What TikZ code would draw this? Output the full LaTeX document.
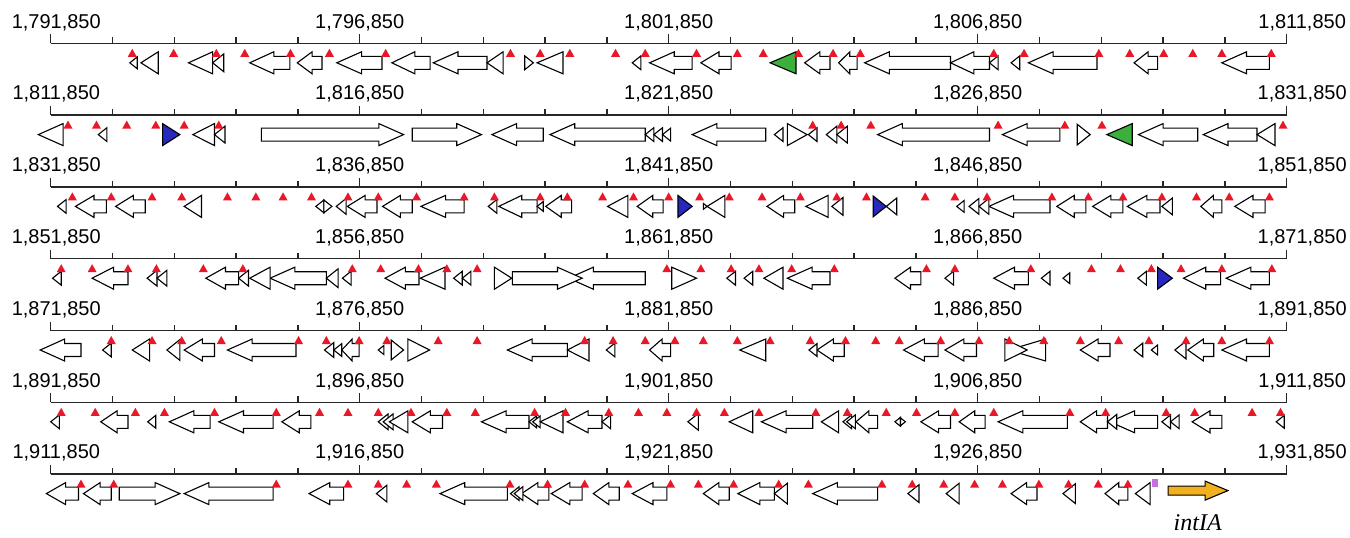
\documentclass[tikz,border=0pt]{standalone}
\usepackage{fontspec}
\setmainfont{Liberation Sans}
\newfontfamily\genefont{Liberation Serif}
\definecolor{sitered}{RGB}{232,24,40}
\definecolor{orfblue}{RGB}{40,40,190}
\definecolor{orfgreen}{RGB}{60,176,60}
\definecolor{intgold}{RGB}{240,176,32}
\definecolor{attviolet}{RGB}{196,112,224}

\tikzset{
  gene/.style={draw=black, line width=1.1pt, line join=miter},
  rule/.style={draw=black!85, line width=1.3pt},
  scale label/.style={anchor=base, inner sep=0pt, font=\fontsize{20}{21}\selectfont},
}

% left / right pointing ORF arrows, ends in kb from the start of the row
\newcommand{\gleft}[3][white]{%
  \pgfmathsetmacro\headl{min(0.40,0.6*(#3-(#2)))}%
  \filldraw[gene,fill=#1] (#2,19.5) -- ({#2+\headl},8.5) -- ({#2+\headl},13) -- (#3,13)
    -- (#3,26) -- ({#2+\headl},26) -- ({#2+\headl},30.5) -- cycle;}
\newcommand{\gright}[3][white]{%
  \pgfmathsetmacro\headl{min(0.40,0.6*(#3-(#2)))}%
  \filldraw[gene,fill=#1] (#3,19.5) -- ({#3-\headl},8.5) -- ({#3-\headl},13) -- (#2,13)
    -- (#2,26) -- ({#3-\headl},26) -- ({#3-\headl},30.5) -- cycle;}
% short ORFs drawn as bare triangles
\newcommand{\tleft}[3][white]{%
  \pgfmathsetmacro\trih{min(11,49.4*(#3-(#2)))}%
  \filldraw[gene,fill=#1] (#2,19.5) -- (#3,{19.5-\trih}) -- (#3,{19.5+\trih}) -- cycle;}
\newcommand{\tright}[3][white]{%
  \pgfmathsetmacro\trih{min(11,49.4*(#3-(#2)))}%
  \filldraw[gene,fill=#1] (#3,19.5) -- (#2,{19.5-\trih}) -- (#2,{19.5+\trih}) -- cycle;}
% restriction site marker
\newcommand{\cutsite}[1]{%
  \fill[sitered] (#1,13.5) -- ++(4.5pt,0pt) -- ++(-4.5pt,8pt) -- ++(-4.5pt,-8pt) -- cycle;}
% 20 kb ruler with 1 kb ticks and coordinate labels every 5 kb
\newcommand{\drawruler}[6]{%
  \draw[rule] (0,0) -- (20,0);
  \foreach \k in {0,...,20} {\draw[rule] (\k,0) -- (\k,-6);}
  \foreach \k in {0,5,...,20} {\draw[rule] (\k,0) -- (\k,-9);}
  \node[scale label] (#1a) at (0.09,-15.3) {#2};
  \node[scale label] (#1b) at (5,-15.3) {#3};
  \node[scale label] (#1c) at (10,-15.3) {#4};
  \node[scale label] (#1d) at (15,-15.3) {#5};
  \node[scale label] (#1e) at (20.25,-15.3) {#6};}

\begin{document}
\begin{tikzpicture}[x=1pt, y=-1pt]
\fill[white] (0,0) rectangle (1350,538);
\useasboundingbox (0,0) rectangle (1350,538);

% ---- 1,791,850 - 1,811,850
\begin{scope}[shift={(50.7,43.3)}, x=61.8pt]
  \drawruler{r1}{1,791,850}{1,796,850}{1,801,850}{1,806,850}{1,811,850}
  \foreach \a/\b in {3.22/3.87, 3.99/4.39, 4.63/5.36, 5.52/6.14, 6.19/7.06, 9.69/10.38,
    10.52/11.01, 12.20/12.61, 12.75/13.05, 13.17/14.56, 14.56/15.19, 15.82/16.93,
    17.53/17.91, 18.95/19.72} {\gleft{\a}{\b}}
  \foreach \a/\b in {1.28/1.40, 1.46/1.74, 2.23/2.62, 2.62/2.80, 7.06/7.32, 7.87/8.29,
    9.41/9.55, 15.19/15.33, 15.54/15.68} {\tleft{\a}{\b}}
  \tright{7.67}{7.81}
  \tleft[orfgreen]{11.64}{12.06}
  \foreach \p in {1.32,1.99,2.68,3.14,3.88,4.51,5.42,7.44,7.92,8.40,9.14,9.62,10.45,11.11,
    11.53,12.10,12.66,13.10,15.26,15.75,16.96,17.46,18.01,18.48,18.95,19.75} {\cutsite{\p}}
\end{scope}

% ---- 1,811,850 - 1,831,850
\begin{scope}[shift={(50.7,115.1)}, x=61.8pt]
  \drawruler{r2}{1,811,850}{1,816,850}{1,821,850}{1,826,850}{1,831,850}
  \foreach \a/\b in {7.14/7.97, 8.08/9.62, 10.38/11.57, 13.38/15.19, 15.40/16.33,
    17.60/18.56, 18.65/19.52} {\gleft{\a}{\b}}
  \foreach \a/\b in {3.41/5.71, 5.85/6.97} {\gright{\a}{\b}}
  \foreach \a/\b in {-0.20/0.20, 0.77/0.91, 2.30/2.65, 2.65/2.82, 9.62/9.76, 9.76/9.90,
    9.90/10.03, 11.71/11.85, 12.26/12.40, 12.55/12.72, 12.72/12.89, 19.52/19.81} {\tleft{\a}{\b}}
  \foreach \a/\b in {11.92/12.24, 16.61/16.82} {\tright{\a}{\b}}
  \tright[orfblue]{1.81}{2.09}
  \tleft[orfgreen]{17.09}{17.50}
  \foreach \p in {0.28,0.74,1.23,1.70,2.16,2.72,12.33,12.79,13.27,15.33,16.41,17.01,19.94}
    {\cutsite{\p}}
\end{scope}

% ---- 1,831,850 - 1,851,850
\begin{scope}[shift={(50.7,186.9)}, x=61.8pt]
  \drawruler{r3}{1,831,850}{1,836,850}{1,841,850}{1,846,850}{1,851,850}
  \foreach \a/\b in {0.40/0.90, 1.05/1.53, 4.80/5.28, 5.37/5.85, 5.99/6.69, 7.25/7.87,
    8.01/8.43, 9.49/9.91, 11.59/12.04, 15.18/16.17, 16.28/16.75, 16.86/17.35, 17.42/17.95,
    18.61/18.95, 19.16/19.65} {\gleft{\a}{\b}}
  \foreach \a/\b in {0.11/0.25, 2.16/2.44, 4.29/4.42, 4.62/4.78, 7.08/7.22, 7.87/7.97,
    9.01/9.34, 10.62/10.91, 12.22/12.58, 12.64/12.82, 13.52/13.69, 14.66/14.78,
    14.86/15.02, 15.02/15.18, 17.98/18.15} {\tleft{\a}{\b}}
  \foreach \a/\b in {4.42/4.55, 10.56/10.62} {\tright{\a}{\b}}
  \tright[orfblue]{10.15}{10.38}
  \tright[orfblue]{13.31}{13.52}
  \foreach \p in {0.35,0.98,1.64,2.12,2.86,3.32,3.76,4.22,4.81,5.30,5.92,6.69,7.18,7.92,
    8.36,8.93,9.43,10.00,10.50,10.98,11.51,12.13,12.72,13.20,14.15,14.63,15.15,16.20,
    16.79,17.35,17.98,18.54,19.07,19.72} {\cutsite{\p}}
\end{scope}

% ---- 1,851,850 - 1,871,850
\begin{scope}[shift={(50.7,258.7)}, x=61.8pt]
  \drawruler{r4}{1,851,850}{1,856,850}{1,861,850}{1,866,850}{1,871,850}
  \foreach \a/\b in {0.67/1.25, 2.51/3.04, 3.55/4.46, 5.41/5.96, 8.38/9.62, 11.92/12.61,
    13.66/14.08, 15.26/15.82, 18.33/18.93, 19.02/19.72} {\gleft{\a}{\b}}
  \gright{7.47}{8.60}
  \foreach \a/\b in {0.03/0.17, 1.56/1.72, 1.72/1.88, 3.04/3.20, 3.22/3.55, 4.46/4.65,
    4.72/4.86, 5.98/6.38, 6.52/6.66, 6.66/6.80, 10.94/11.08, 11.22/11.36, 11.54/11.85,
    14.47/14.61, 16.03/16.17, 16.38/16.49, 17.59/17.73} {\tleft{\a}{\b}}
  \foreach \a/\b in {7.18/7.46, 10.05/10.45} {\tright{\a}{\b}}
  \tright[orfblue]{17.91}{18.15}
  \foreach \p in {0.17,0.67,1.25,1.71,2.47,3.11,4.88,5.34,5.95,6.41,6.90,9.97,10.52,11.01,
    11.46,11.99,12.68,14.17,14.63,15.86,16.84,17.31,17.81,18.29,18.95,19.76} {\cutsite{\p}}
\end{scope}

% ---- 1,871,850 - 1,891,850
\begin{scope}[shift={(50.7,330.5)}, x=61.8pt]
  \drawruler{r5}{1,871,850}{1,876,850}{1,881,850}{1,886,850}{1,891,850}
  \foreach \a/\b in {-0.17/0.49, 2.16/2.65, 2.86/3.97, 4.71/4.99, 7.39/8.36, 9.69/10.03,
    12.40/12.84, 13.80/14.36, 14.47/14.98, 16.66/17.14, 18.40/18.82, 18.95/19.72}
    {\gleft{\a}{\b}}
  \foreach \a/\b in {0.84/0.98, 1.32/1.60, 1.88/2.09, 4.43/4.58, 4.58/4.71, 5.30/5.39,
    8.36/8.71, 8.99/9.13, 11.15/11.57, 12.27/12.40, 15.50/16.10, 17.53/17.67, 17.81/17.91,
    18.19/18.37} {\tleft{\a}{\b}}
  \foreach \a/\b in {5.51/5.71, 5.78/6.13, 15.44/15.80} {\tright{\a}{\b}}
  \foreach \p in {0.98,1.64,2.12,2.76,4.01,4.46,4.99,5.44,6.27,6.90,8.64,9.10,9.62,10.10,
    10.56,11.11,11.64,12.29,12.86,13.35,13.73,14.40,15.02,15.51,16.07,16.66,17.28,17.77,
    18.37,18.95,19.72} {\cutsite{\p}}
\end{scope}

% ---- 1,891,850 - 1,911,850
\begin{scope}[shift={(50.7,402.3)}, x=61.8pt]
  \drawruler{r6}{1,891,850}{1,896,850}{1,901,850}{1,906,850}{1,911,850}
  \foreach \a/\b in {0.81/1.25, 1.92/2.58, 2.72/3.60, 3.74/4.21, 5.85/6.34, 6.97/7.74,
    8.36/8.92, 11.50/12.33, 13.03/13.38, 14.08/14.56, 14.70/15.12, 15.33/16.45,
    16.66/17.10, 17.14/17.91, 18.47/18.95} {\gleft{\a}{\b}}
  \foreach \a/\b in {0.00/0.14, 1.57/1.70, 5.30/5.46, 5.38/5.54, 5.48/5.78, 7.74/7.86,
    7.80/7.92, 7.92/8.29, 8.92/9.06, 10.31/10.48, 10.98/11.36, 12.47/12.75, 12.82/12.96,
    12.88/13.02, 13.66/13.75, 17.10/17.25, 17.98/18.12, 18.12/18.26, 19.83/19.96}
    {\tleft{\a}{\b}}
  \tright{13.75}{13.83}
  \foreach \p in {0.17,0.72,1.37,1.84,2.65,3.65,4.35,4.81,5.30,5.83,6.41,6.87,7.83,8.33,
    9.03,9.51,9.97,10.45,10.90,11.46,12.38,12.89,13.52,14.01,14.63,15.26,16.49,17.07,
    18.05,18.51,19.44,19.90} {\cutsite{\p}}
\end{scope}

% ---- 1,911,850 - 1,931,850, ending with the integrase gene
\begin{scope}[shift={(50.7,474.1)}, x=61.8pt]
  \drawruler{r7}{1,911,850}{1,916,850}{1,921,850}{1,926,850}{1,931,850}
  \foreach \a/\b in {-0.07/0.45, 0.53/0.98, 2.16/3.60, 4.18/4.74, 6.30/7.39, 7.62/8.06,
    8.10/8.60, 8.78/9.20, 9.41/9.97, 10.56/10.98, 11.12/11.71, 12.33/13.38, 15.54/15.96,
    17.06/17.43} {\gleft{\a}{\b}}
  \gright{1.11}{2.09}
  \foreach \a/\b in {5.27/5.44, 7.44/7.58, 7.50/7.64, 11.71/11.92, 13.87/14.05,
    14.49/14.70, 16.38/16.58, 17.55/17.79} {\tleft{\a}{\b}}
  \foreach \p in {0.49,1.02,3.65,4.81,5.30,5.76,6.24,7.43,8.04,8.64,9.34,10.03,10.48,
    11.05,11.78,12.26,13.45,13.94,14.45,14.95,15.40,15.99,16.47,16.95,17.43} {\cutsite{\p}}
  \fill[attviolet] (17.82,4.5) rectangle (17.92,13);
  \filldraw[gene, fill=intgold] (19.05,16.5) -- (18.68,7) -- (18.68,12) -- (18.08,12)
    -- (18.08,21) -- (18.68,21) -- (18.68,26) -- cycle;
  \node[anchor=base, inner sep=0pt, font=\genefont\itshape\fontsize{24}{25}\selectfont]
    (intIA) at (18.56,56) {intIA};
\end{scope}
\end{tikzpicture}
\end{document}
